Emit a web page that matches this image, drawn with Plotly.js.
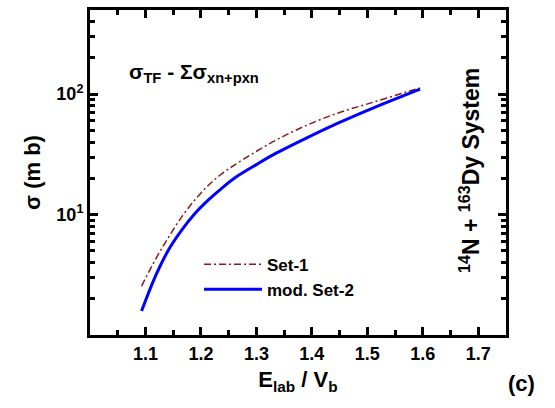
<!DOCTYPE html>
<html><head><meta charset="utf-8">
<script src="https://cdn.plot.ly/plotly-3.0.1.min.js"></script>
<style>html,body{margin:0;padding:0;background:#fff}#chart{width:555px;height:408px}</style>
</head><body><div id="chart"></div>
<script>
const set1X = [1.093, 1.118, 1.142, 1.166, 1.190, 1.214, 1.238, 1.270, 1.330, 1.390, 1.450, 1.510, 1.570, 1.595];
const set1Y = [2.55, 4.24, 6.53, 9.66, 13.4, 17.6, 21.9, 27.5, 40.3, 55.0, 70.5, 85.5, 104.2, 112.7];
const set2X = [1.093, 1.118, 1.142, 1.166, 1.190, 1.214, 1.238, 1.262, 1.300, 1.330, 1.390, 1.450, 1.510, 1.570, 1.595];
const set2Y = [1.58, 3.08, 5.13, 7.5, 10.3, 13.3, 16.6, 20.3, 26.0, 31.3, 43.1, 58.2, 76.6, 99, 110];
const xTicks = [1.1, 1.2, 1.3, 1.4, 1.5, 1.6, 1.7];
const xMinor = [1.05, 1.15, 1.25, 1.35, 1.45, 1.55, 1.65];
const yTicks = [10, 100];
const yTickText = ['10<sup>1</sup>', '10<sup>2</sup>'];
const yMinor = [2,3,4,5,6,7,8,9,20,30,40,50,60,70,80,90,200,300,400,500];

const F = 'Liberation Sans, Arial, sans-serif';
const traces = [
  {x: set1X, y: set1Y, name: 'Set-1', mode: 'lines', type: 'scatter',
   line: {color: '#8b1a1a', width: 1.5, dash: '7px,3px,2px,3px', shape: 'spline', smoothing: 1}},
  {x: set2X, y: set2Y, name: 'mod. Set-2', mode: 'lines', type: 'scatter',
   line: {color: '#0000ff', width: 3, shape: 'spline', smoothing: 1}}
];
const axisCommon = {showgrid: false, zeroline: false, showline: true, linewidth: 3, linecolor: '#000',
  mirror: 'allticks', ticks: 'inside', ticklen: 8, tickwidth: 3, tickcolor: '#000',
  tickfont: {family: F, size: 18, color: '#000', weight: 'bold'}};
const layout = {
  width: 555, height: 408, margin: {l: 90, r: 49, t: 10, b: 73},
  paper_bgcolor: '#fff', plot_bgcolor: '#fff', font: {family: F, color: '#000'},
  xaxis: Object.assign({}, axisCommon, {range: [1.0, 1.75], tickvals: xTicks, ticktext: xTicks.map(v => v.toFixed(1)),
    minor: {tickvals: xMinor, ticks: 'inside', ticklen: 5, tickwidth: 3, tickcolor: '#000'},
    title: {text: 'E<sub>lab</sub> / V<sub>b</sub>', font: {family: F, size: 22, weight: 'bold'}, standoff: 10}}),
  yaxis: Object.assign({}, axisCommon, {type: 'log', range: [0, 2.699], tickvals: yTicks, ticktext: yTickText,
    minor: {tickvals: yMinor, ticks: 'inside', ticklen: 5, tickwidth: 3, tickcolor: '#000'},
    title: {text: 'σ (m b)', font: {family: F, size: 22, weight: 'bold'}, standoff: 10}}),
  showlegend: true,
  legend: {x: 0.262, y: 0.272, xanchor: 'left', yanchor: 'top', bgcolor: 'rgba(0,0,0,0)',
    font: {family: F, size: 17, color: '#000', weight: 'bold'}, itemwidth: 58},
  annotations: [
    {xref: 'paper', yref: 'paper', x: 0.088, y: 0.805, xanchor: 'left', yanchor: 'middle', showarrow: false,
     text: 'σ<sub>TF</sub> - Σσ<sub>xn+pxn</sub>', font: {family: F, size: 21, weight: 'bold', color: '#000'}},
    {xref: 'paper', yref: 'paper', x: 0.912, y: 0.506, xanchor: 'center', yanchor: 'middle', showarrow: false, textangle: -90,
     text: '<sup>14</sup>N + <sup>163</sup>Dy System', font: {family: F, size: 23, weight: 'bold', color: '#000'}},
    {xref: 'paper', yref: 'paper', x: 1.037, y: -0.15, xanchor: 'center', yanchor: 'middle', showarrow: false,
     text: '(c)', font: {family: F, size: 22, weight: 'bold', color: '#000'}}
  ]
};
Plotly.newPlot('chart', traces, layout, {displayModeBar: false, staticPlot: true});
</script></body></html>
